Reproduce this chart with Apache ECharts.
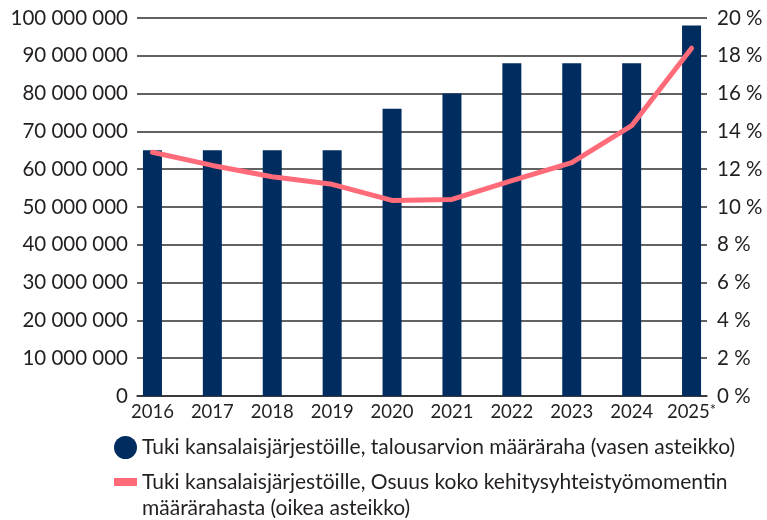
<!DOCTYPE html>
<html>
<head>
<meta charset="utf-8">
<script src="https://cdn.jsdelivr.net/npm/echarts@6/dist/echarts.min.js"></script>
<style>
  html, body { margin: 0; padding: 0; background: #fff; }
  #chart { width: 767px; height: 520px; }
</style>
</head>
<body>
<div id="chart"></div>
<script>
const years = ['2016', '2017', '2018', '2019', '2020', '2021', '2022', '2023', '2024', '2025*']
// määräraha, euroa (vasen asteikko)
const budget = [65000000, 65000000, 65000000, 65000000, 76000000, 80000000, 88000000, 88000000, 88000000, 98000000]
// osuus kehitysyhteistyömomentista, % (oikea asteikko)
const share = [12.9, 12.2, 11.6, 11.2, 10.35, 10.4, 11.4, 12.35, 14.3, 18.4]

const barName = 'Tuki kansalaisjärjestöille, talousarvion määräraha (vasen asteikko)'
const lineName = 'Tuki kansalaisjärjestöille, Osuus koko kehitysyhteistyömomentin määrärahasta (oikea asteikko)'

const textColor = '#231f20'
const font = 'Lato'
const gridColor = '#2e2e2e'

const fmtThousands = (v) => String(v).replace(/\B(?=(\d{3})+(?!\d))/g, ' ')

const chart = echarts.init(document.getElementById('chart'))
const option = {
  animation: false,
  textStyle: { fontFamily: font, color: textColor },
  grid: [
    // gridlines + axis labels
    { left: 137, right: 60, top: 18, bottom: 124 },
    // bars + line
    { left: 122.5, right: 45.5, top: 18, bottom: 124 },
  ],
  xAxis: [
    {
      gridIndex: 0,
      type: 'value',
      min: 0,
      max: 1,
      axisLine: { show: true, lineStyle: { color: gridColor, width: 1.5 } },
      axisTick: { show: false },
      axisLabel: { show: false },
      splitLine: { show: false },
    },
    {
      gridIndex: 1,
      type: 'category',
      data: years,
      axisLine: { show: false },
      axisTick: { show: false },
      axisLabel: {
        interval: 0,
        margin: 7,
        fontFamily: font,
        fontSize: 18.5,
        color: textColor,
        formatter: (v) => (v.endsWith('*') ? v.slice(0, -1) + '{s|*}' : v),
        rich: {
          s: { fontSize: 15, fontFamily: font, color: textColor, verticalAlign: 'top' },
        },
      },
    },
  ],
  yAxis: [
    {
      gridIndex: 0,
      type: 'value',
      position: 'left',
      min: 0,
      max: 100000000,
      interval: 10000000,
      axisLine: { show: false },
      axisTick: { show: false },
      axisLabel: {
        margin: 9,
        fontFamily: font,
        fontSize: 20.5,
        color: textColor,
        formatter: fmtThousands,
      },
      splitLine: { show: true, lineStyle: { color: gridColor, width: 1.5 } },
    },
    {
      gridIndex: 0,
      type: 'value',
      position: 'right',
      min: 0,
      max: 20,
      interval: 2,
      axisLine: { show: false },
      axisTick: { show: false },
      axisLabel: {
        margin: 10,
        fontFamily: font,
        fontSize: 20.5,
        color: textColor,
        formatter: '{value} %',
      },
      splitLine: { show: false },
    },
    { gridIndex: 1, type: 'value', min: 0, max: 100000000, show: false },
    { gridIndex: 1, type: 'value', min: 0, max: 20, show: false },
  ],
  legend: [
    {
      data: [{ name: barName, icon: 'circle' }],
      left: 114,
      top: 436,
      padding: 0,
      itemWidth: 23,
      itemHeight: 23,
      textStyle: { fontFamily: font, fontSize: 21, color: textColor },
    },
    {
      data: [{ name: lineName, icon: 'rect' }],
      left: 114,
      top: 470,
      padding: 0,
      itemWidth: 23,
      itemHeight: 8,
      formatter: () => 'Tuki kansalaisjärjestöille, Osuus koko kehitysyhteistyömomentin',
      textStyle: { fontFamily: font, fontSize: 21, color: textColor, lineHeight: 24 },
    },
  ],
  graphic: [
    {
      type: 'text',
      x: 142,
      y: 508,
      style: {
        text: 'määrärahasta (oikea asteikko)',
        font: '21px Lato',
        fill: textColor,
        verticalAlign: 'middle',
      },
    },
  ],
  series: [
    {
      name: barName,
      type: 'bar',
      xAxisIndex: 1,
      yAxisIndex: 2,
      barWidth: 19,
      itemStyle: { color: '#002c5f' },
      data: budget,
    },
    {
      name: lineName,
      type: 'line',
      xAxisIndex: 1,
      yAxisIndex: 3,
      symbol: 'none',
      color: '#ff6b79',
      lineStyle: { width: 5, cap: 'round', join: 'round', color: '#ff6b79' },
      data: share,
    },
  ],
}
chart.setOption(option)
</script>
</body>
</html>
